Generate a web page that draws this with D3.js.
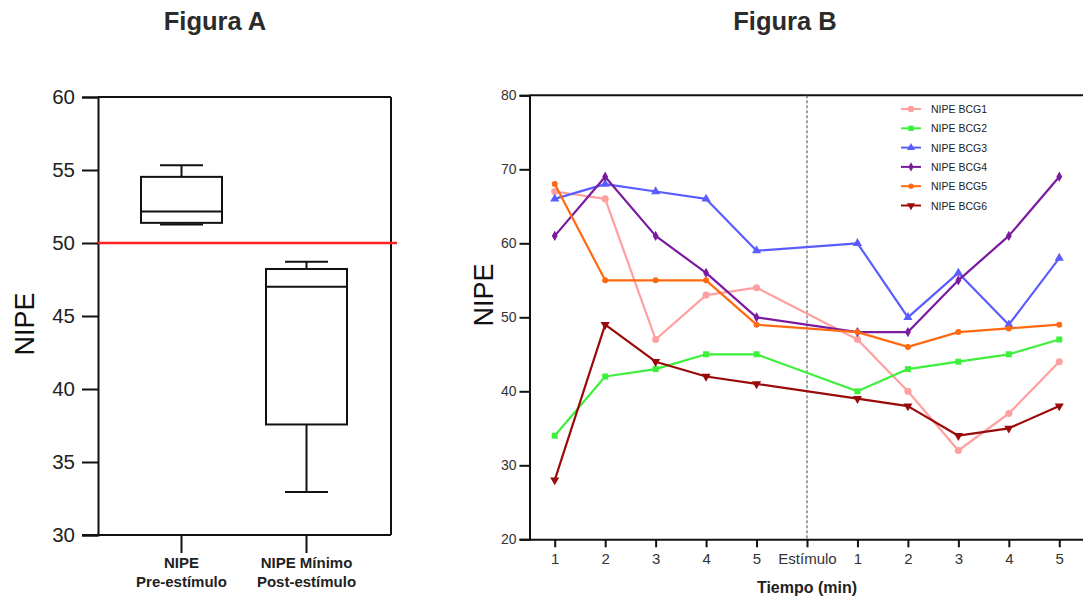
<!DOCTYPE html>
<html>
<head>
<meta charset="utf-8">
<script src="https://cdn.jsdelivr.net/npm/d3@7"></script>
<style>
  html, body { margin: 0; padding: 0; background: #fff; }
  svg { display: block; font-family: "Liberation Sans", Arial, sans-serif; }
</style>
</head>
<body>
<svg id="chart" width="1083" height="603"></svg>
<script>
// ---- Figura A: box plot summary (whisker low, Q1, median, Q3, whisker high)
const boxCategories = [["NIPE", "Pre-estímulo"], ["NIPE Mínimo", "Post-estímulo"]];
const boxLow    = [51.27, 32.95];
const boxQ1     = [51.38, 37.57];
const boxMedian = [52.15, 47.0];
const boxQ3     = [54.53, 48.22];
const boxHigh   = [55.33, 48.72];
const boxTicks  = [30, 35, 40, 45, 50, 55, 60];
const thresholdValue = 50;

// ---- Figura B: NIPE time series per subject
const timeLabels = ["1", "2", "3", "4", "5", "Estímulo", "1", "2", "3", "4", "5"];
const timeIndex  = [0, 1, 2, 3, 4, 6, 7, 8, 9, 10];   // positions of measured points (Estímulo has none)
const seriesNames = ["NIPE BCG1", "NIPE BCG2", "NIPE BCG3", "NIPE BCG4", "NIPE BCG5", "NIPE BCG6"];
const bcg1 = [67, 66, 47, 53, 54, 47, 40, 32, 37, 44];
const bcg2 = [34, 42, 43, 45, 45, 40, 43, 44, 45, 47];
const bcg3 = [66, 68, 67, 66, 59, 60, 50, 56, 49, 58];
const bcg4 = [61, 69, 61, 56, 50, 48, 48, 55, 61, 69];
const bcg5 = [68, 55, 55, 55, 49, 48, 46, 48, 48.5, 49];
const bcg6 = [28, 49, 44, 42, 41, 39, 38, 34, 35, 38];
const lineTicks = [20, 30, 40, 50, 60, 70, 80];

const seriesValues = [bcg1, bcg2, bcg3, bcg4, bcg5, bcg6];
const seriesColors = ["#ffa0a0", "#3cf03c", "#5a5cff", "#7a1aa0", "#ff6a10", "#9a0a0a"];
const seriesSymbols = [
  d3.symbolCircle, d3.symbolSquare, d3.symbolTriangle,
  d3.symbolDiamond, d3.symbolCircle, d3.symbolTriangle
];
const symbolSizes = [40, 36, 36, 30, 28, 36];
const symbolRotate = [0, 0, 0, 0, 0, 180];

const svg = d3.select("#chart");
const ink = "#111";
const fontFamily = "\"Liberation Sans\", Arial, sans-serif";

// ================= Figura A =================
const gA = svg.append("g");
const yA = d3.scaleLinear().domain([30, 60]).range([535, 97]);
const xA = d3.scaleBand().domain(d3.range(boxCategories.length))
  .range([119, 369]).padding(0);
const leftA = 98, rightA = 391;

gA.append("text").attr("x", 215).attr("y", 30).attr("text-anchor", "middle")
  .attr("font-size", 25.5).attr("font-weight", "bold").attr("fill", "#2b2b2b").text("Figura A");

// y axis
const axA = gA.append("g").attr("transform", `translate(${leftA},0)`)
  .call(d3.axisLeft(yA).tickValues(boxTicks).tickSize(16).tickPadding(7));
axA.select(".domain").attr("stroke", ink).attr("stroke-width", 2);
axA.selectAll(".tick line").attr("stroke", ink).attr("stroke-width", 2);
axA.selectAll(".tick text").attr("font-size", 20.5).attr("fill", "#222")
  .attr("font-family", fontFamily);

// frame: top, right, bottom
gA.append("line").attr("x1", leftA).attr("x2", rightA).attr("y1", yA(60)).attr("y2", yA(60))
  .attr("stroke", ink).attr("stroke-width", 2);
gA.append("line").attr("x1", rightA).attr("x2", rightA).attr("y1", yA(60)).attr("y2", yA(30))
  .attr("stroke", ink).attr("stroke-width", 2);
gA.append("line").attr("x1", leftA - 16).attr("x2", rightA).attr("y1", yA(30)).attr("y2", yA(30))
  .attr("stroke", ink).attr("stroke-width", 2);

// x ticks & category labels
boxCategories.forEach((lab, i) => {
  const cx = xA(i) + xA.bandwidth() / 2;
  gA.append("line").attr("x1", cx).attr("x2", cx).attr("y1", yA(30)).attr("y2", yA(30) + 18)
    .attr("stroke", ink).attr("stroke-width", 2);
  const t = gA.append("text").attr("text-anchor", "middle").attr("font-size", 15)
    .attr("font-weight", "bold").attr("fill", "#222");
  t.append("tspan").attr("x", cx).attr("y", 568).text(lab[0]);
  t.append("tspan").attr("x", cx).attr("y", 587).text(lab[1]);
});

// y label
gA.append("text").attr("transform", `translate(34,324) rotate(-90)`)
  .attr("text-anchor", "middle").attr("font-size", 27).attr("fill", "#111").text("NIPE");

// boxes
const boxW = 81, capW = 43;
boxCategories.forEach((_, i) => {
  const cx = xA(i) + xA.bandwidth() / 2;
  const g = gA.append("g").attr("stroke", ink).attr("stroke-width", 2).attr("fill", "none");
  g.append("line").attr("x1", cx).attr("x2", cx).attr("y1", yA(boxHigh[i])).attr("y2", yA(boxQ3[i]));
  g.append("line").attr("x1", cx).attr("x2", cx).attr("y1", yA(boxQ1[i])).attr("y2", yA(boxLow[i]));
  g.append("line").attr("x1", cx - capW / 2).attr("x2", cx + capW / 2)
    .attr("y1", yA(boxHigh[i])).attr("y2", yA(boxHigh[i]));
  g.append("line").attr("x1", cx - capW / 2).attr("x2", cx + capW / 2)
    .attr("y1", yA(boxLow[i])).attr("y2", yA(boxLow[i]));
  g.append("rect").attr("x", cx - boxW / 2).attr("width", boxW)
    .attr("y", yA(boxQ3[i])).attr("height", yA(boxQ1[i]) - yA(boxQ3[i])).attr("fill", "#fff");
  g.append("line").attr("x1", cx - boxW / 2).attr("x2", cx + boxW / 2)
    .attr("y1", yA(boxMedian[i])).attr("y2", yA(boxMedian[i]));
});

// threshold
gA.append("line").attr("x1", leftA).attr("x2", 397)
  .attr("y1", yA(thresholdValue)).attr("y2", yA(thresholdValue))
  .attr("stroke", "#ff2020").attr("stroke-width", 2.5);

// ================= Figura B =================
const gB = svg.append("g");
const yB = d3.scaleLinear().domain([20, 80]).range([539.3, 95.3]);
const xB = d3.scaleLinear().domain([-0.5, 10.5]).range([529.5, 1084.5]);

gB.append("text").attr("x", 785).attr("y", 30).attr("text-anchor", "middle")
  .attr("font-size", 25.5).attr("font-weight", "bold").attr("fill", "#2b2b2b").text("Figura B");

// y axis
const ayB = gB.append("g").attr("transform", `translate(${xB(-0.5)},0)`)
  .call(d3.axisLeft(yB).tickValues(lineTicks).tickSize(10).tickPadding(3));
ayB.select(".domain").attr("stroke", ink).attr("stroke-width", 2);
ayB.selectAll(".tick line").attr("stroke", ink).attr("stroke-width", 2);
ayB.selectAll(".tick text").attr("font-size", 14).attr("fill", "#333")
  .attr("font-family", fontFamily);

// top border
gB.append("line").attr("x1", xB(-0.5)).attr("x2", 1083).attr("y1", yB(80)).attr("y2", yB(80))
  .attr("stroke", ink).attr("stroke-width", 2);

// x axis
const axB = gB.append("g").attr("transform", `translate(0,${yB(20)})`)
  .call(d3.axisBottom(xB).tickValues(d3.range(timeLabels.length))
    .tickFormat(i => timeLabels[i]).tickSize(8).tickPadding(6).tickSizeOuter(0));
axB.select(".domain").attr("stroke", ink).attr("stroke-width", 2);
axB.selectAll(".tick line").attr("stroke", ink).attr("stroke-width", 2);
axB.selectAll(".tick text").attr("font-size", 15).attr("fill", "#333")
  .attr("font-family", fontFamily);

// stimulus marker
gB.append("line").attr("x1", xB(5)).attr("x2", xB(5)).attr("y1", yB(80)).attr("y2", yB(20))
  .attr("stroke", "#444").attr("stroke-width", 1).attr("stroke-dasharray", "3,2");

// axis titles
gB.append("text").attr("x", xB(5)).attr("y", 593).attr("text-anchor", "middle")
  .attr("font-size", 16).attr("font-weight", "bold").attr("fill", "#222").text("Tiempo (min)");
gB.append("text").attr("transform", `translate(493,295) rotate(-90)`)
  .attr("text-anchor", "middle").attr("font-size", 27).attr("fill", "#111").text("NIPE");

// series
const line = d3.line().x(d => xB(d[0])).y(d => yB(d[1]));
seriesValues.forEach((vals, s) => {
  const pts = vals.map((v, k) => [timeIndex[k], v]);
  gB.append("path").datum(pts).attr("d", line).attr("fill", "none")
    .attr("stroke", seriesColors[s]).attr("stroke-width", 2.2).attr("stroke-linejoin", "round");
  const sym = d3.symbol().type(seriesSymbols[s]).size(symbolSizes[s]);
  gB.append("g").selectAll("path").data(pts).join("path")
    .attr("d", sym)
    .attr("transform", d => `translate(${xB(d[0])},${yB(d[1])}) rotate(${symbolRotate[s]})`)
    .attr("fill", seriesColors[s]);
});

// legend
const legend = gB.append("g").attr("transform", "translate(901,109)");
seriesNames.forEach((name, s) => {
  const row = legend.append("g").attr("transform", `translate(0,${s * 19.3})`);
  row.append("line").attr("x1", 0).attr("x2", 20).attr("y1", 0).attr("y2", 0)
    .attr("stroke", seriesColors[s]).attr("stroke-width", 2);
  row.append("path").attr("d", d3.symbol().type(seriesSymbols[s]).size(symbolSizes[s] * 0.8))
    .attr("transform", `translate(10,0) rotate(${symbolRotate[s]})`).attr("fill", seriesColors[s]);
  row.append("text").attr("x", 30).attr("y", 4).attr("font-size", 10.5).attr("fill", "#222").text(name);
});
</script>
</body>
</html>
